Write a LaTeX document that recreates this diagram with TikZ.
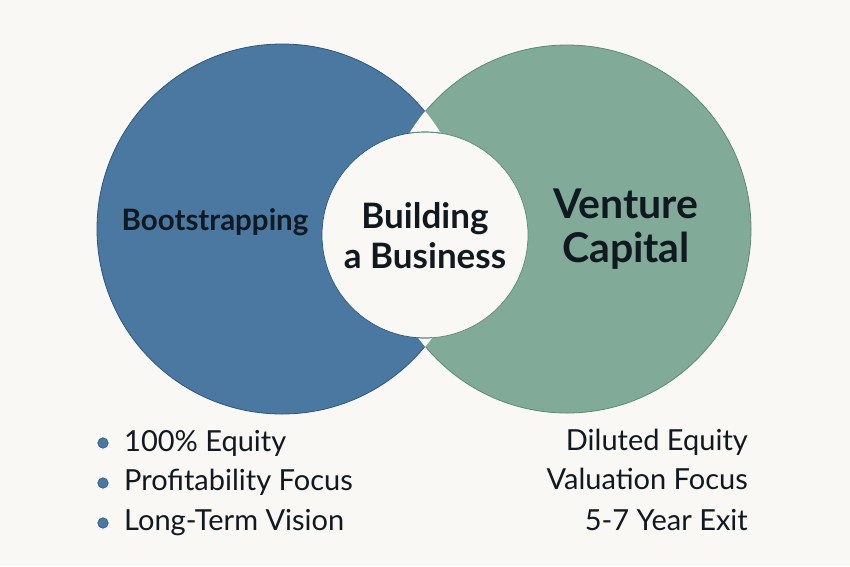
\documentclass[tikz,border=0pt]{standalone}
\usepackage{fontspec}
\setmainfont{Lato}
\usetikzlibrary{positioning}
\definecolor{bgcol}{HTML}{F9F8F4}
\definecolor{bootblue}{HTML}{4A78A0}
\definecolor{bootedge}{HTML}{2B5780}
\definecolor{vcgreen}{HTML}{82AA98}
\definecolor{vcedge}{HTML}{5C8A78}
\definecolor{inkcol}{HTML}{101820}
\tikzset{
  bigtitle/.style={font=\bfseries\fontsize{41}{44}\selectfont, text=inkcol, align=center},
  listitem/.style={font=\fontsize{29}{30}\selectfont, text=inkcol},
  dotmark/.style={circle, fill=bootblue, draw=bootedge, line width=0.6pt, inner sep=0pt, minimum size=10.5pt}
}

\begin{document}
\begin{tikzpicture}[x=1pt,y=-1pt]
\fill [bgcol] (0,0) rectangle (850,566);
\useasboundingbox (0,0) rectangle (850,566);
% the two circles
\fill [bootblue] (282,229) circle (185);
\draw [bootedge, line width=0.8pt] (282,229) circle (185);
\fill [vcgreen] (567,229) circle (184);
\draw [vcedge, line width=0.8pt] (567,229) circle (184);
% lens where they overlap
\begin{scope}
\clip (282,229) circle (185.4);
\fill [bgcol] (567,229) circle (184.4);
\end{scope}
% centre disc
\fill [bgcol] (425,235) circle (103);
\begin{scope}
\clip (282,229) circle (185);
\draw [bootedge, line width=0.7pt] (425,235) circle (103);
\end{scope}
\begin{scope}
\clip (567,229) circle (184);
\draw [vcedge, line width=0.7pt] (425,235) circle (103);
\end{scope}
\node (boot) at (215,222) [font=\bfseries\fontsize{29.5}{30}\selectfont, text=inkcol] {Bootstrapping};
\node (build) at (425,236) [bigtitle, font=\bfseries\fontsize{35}{40}\selectfont] {Building\\a Business};
\node (vc) at (626,229) [bigtitle] {Venture\\Capital};
% left list
\node (dot1) at (103,443) [dotmark] {};
\node (dot2) at (103,483) [dotmark] {};
\node (dot3) at (103,523) [dotmark] {};
\node (eq) at (124,451) [listitem, anchor=base west, inner sep=0pt] {100\% Equity};
\node (prof) at (124,490) [listitem, anchor=base west, inner sep=0pt] {Profitability Focus};
\node (long) at (124,530) [listitem, anchor=base west, inner sep=0pt] {Long-Term Vision};
% right list
\node (dil) at (748,450) [listitem, anchor=base east, inner sep=0pt] {Diluted Equity};
\node (val) at (748,489) [listitem, anchor=base east, inner sep=0pt] {Valuation Focus};
\node (exit) at (748,530) [listitem, anchor=base east, inner sep=0pt] {5-7 Year Exit};
\end{tikzpicture}
\end{document}
